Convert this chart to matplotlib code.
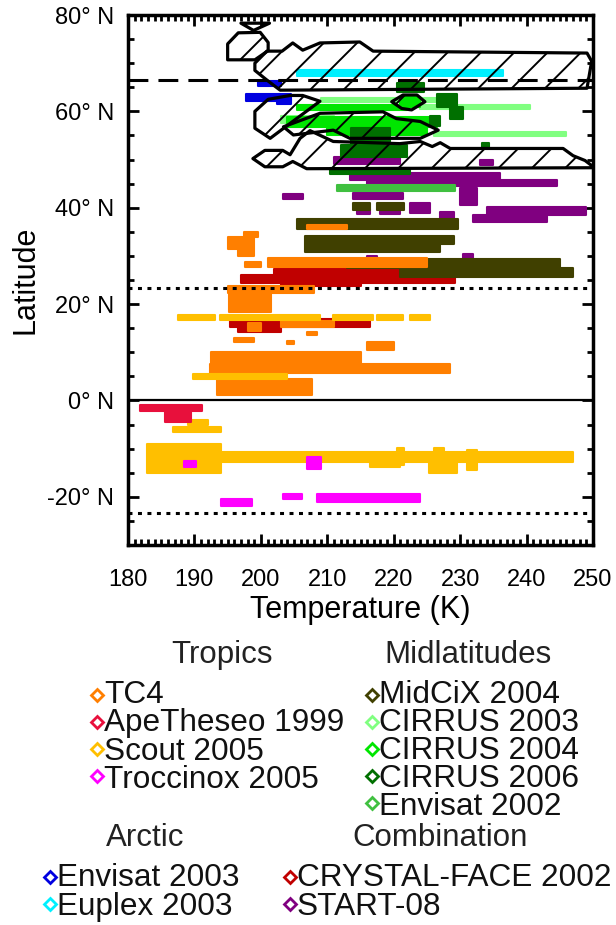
import numpy as np
import matplotlib.pyplot as plt
from matplotlib.patches import Polygon
from matplotlib.ticker import MultipleLocator

plt.rcParams['font.family'] = ['Liberation Sans', 'DejaVu Sans']
plt.rcParams['hatch.linewidth'] = 1.4

# segments of flight data: (lat_lo, lat_hi, T_lo, T_hi)
tc4 = [(35.5, 36.5, 207, 213), (34.0, 35.0, 197.5, 199.5), (31.5, 34.0, 195.0, 199.0),
       (30.0, 31.5, 196.5, 199.0), (27.8, 28.8, 197.6, 200.0), (27.7, 29.6, 201, 225),
       (22.3, 23.8, 195, 208), (18.3, 22.5, 195.2, 201.5), (15.3, 16.5, 203, 211),
       (14.5, 16.0, 198, 200), (13.5, 14.2, 207, 208.5), (12.2, 13.0, 196, 199),
       (11.7, 12.3, 204, 205), (10.5, 12.2, 216, 220), (7.5, 10.0, 192.5, 215),
       (5.8, 7.5, 192.3, 228.5), (1.2, 4.5, 193.4, 207.7)]
crystal_face = [(26.0, 27.3, 202, 222), (24.3, 26.0, 197, 229.2), (23.8, 24.3, 203, 215),
                (19.0, 20.4, 198.8, 201.4), (15.3, 16.9, 195.4, 216.4), (14.2, 15.3, 196.5, 203)]
ape_theseo = [(-2.2, -1.0, 181.8, 191.1), (-4.4, -2.2, 185.5, 189.5)]
scout = [(16.8, 17.8, 187.5, 193.1), (16.8, 17.8, 193.8, 208.9), (16.8, 17.8, 210.9, 216.9),
         (16.8, 17.8, 217.5, 221.4), (16.8, 17.8, 222.5, 225.5), (4.5, 5.5, 189.8, 204),
         (-6.5, -5.5, 186.8, 194), (-5.0, -4.0, 189, 192), (-15, -9, 182.9, 194),
         (-12.8, -10.8, 194, 247), (-13.8, -12.0, 216.5, 221), (-13.3, -9.8, 220.5, 221.5),
         (-15, -12.5, 225.3, 229.5), (-12.5, -9.8, 226, 227.5), (-14.4, -10.2, 231, 232.5)]
troccinox = [(-13.8, -12.6, 188.5, 190.2), (-14.2, -11.8, 207, 209), (-22.0, -20.4, 194.0, 198.7),
             (-20.4, -19.4, 203.3, 206.2), (-21.0, -19.4, 208.4, 224.0)]
midcix = [(39.6, 41.0, 213.9, 216.5), (39.6, 41.0, 217.5, 221.5), (35.6, 37.7, 205.4, 229.7),
          (32.5, 34.2, 206.6, 229), (30.8, 32.5, 206.6, 227), (27.5, 29.4, 213, 245),
          (25.6, 27.5, 221, 247)]
envisat_2002 = [(43.5, 44.7, 211.4, 229.2)]
start_08 = [(49.0, 50.5, 211, 221), (48.8, 50.0, 233, 235), (45.8, 47.3, 213.4, 236),
            (44.6, 45.8, 216, 244.6), (41.8, 42.8, 203.3, 206.3), (41.8, 43.0, 213.9, 221.4),
            (40.6, 44.0, 230.0, 232.5), (39.0, 41.0, 222.5, 225.5), (38.5, 40.2, 234, 249),
            (37.0, 38.5, 232, 243), (38.8, 39.8, 214.5, 216.5), (38.8, 39.8, 218, 221),
            (37.2, 39.2, 227, 229), (29.0, 30.0, 216, 217.5), (29.4, 30.3, 230.5, 232)]
cirrus_2006 = [(64.0, 65.8, 220.5, 224.5), (61.0, 63.5, 226.5, 229.5), (58.5, 61.0, 228.5, 230.5),
               (56.9, 59.0, 225.4, 227), (52.0, 56.5, 213.5, 219.5), (50.5, 53.0, 212, 222),
               (47.0, 48.3, 210.4, 222.5), (52.7, 53.5, 233.3, 234.3)]
cirrus_2004 = [(60.3, 61.4, 205.5, 222), (61.0, 63.0, 221, 224), (56.8, 58.8, 204, 226.5),
               (55.0, 56.5, 210, 225)]
cirrus_2003 = [(62.0, 62.8, 209, 227), (60.4, 61.4, 224, 240.5), (54.9, 55.7, 226, 246),
               (57.5, 59.0, 203, 211)]
envisat_2003 = [(65.2, 66.2, 199.5, 203), (62.2, 63.6, 197.8, 204.5), (61.5, 62.5, 202.5, 204.5)]
euplex = [(67.3, 68.5, 205.4, 236.5)]

# hatched regions (T, lat)
region_tri = [(197.0, 78.3), (201.3, 78.3), (198.9, 76.8)]
region_hex = [(196.6, 76.3), (199.9, 76.4), (201.1, 74.3), (201.1, 72.6), (199.1, 70.7),
              (195.0, 70.7), (195.0, 74.0)]
region_top = [(199.1, 70.0), (200.9, 72.5), (203.2, 72.5), (204.8, 74.2), (206.3, 72.7),
              (208.9, 74.2), (214.9, 74.4), (216.9, 72.5), (249.1, 72.1), (249.8, 70.4),
              (249.1, 64.8), (202.9, 64.4), (200.9, 66.5), (199.1, 68.5)]
region_diamond = [(219.7, 62.0), (221.4, 63.4), (223.5, 63.4), (224.7, 62.0), (222.7, 60.3),
                  (221.2, 60.6)]
region_mid_left = [(199.1, 60.0), (201.1, 62.5), (204.4, 63.3), (206.3, 63.3), (208.9, 62.1),
                   (204.4, 57.5), (201.4, 54.4), (199.1, 56.5)]
region_mid = [(203.4, 56.8), (208.9, 59.6), (218.4, 59.9), (220.4, 58.5), (224.0, 57.9),
              (226.7, 56.1), (224.0, 54.4), (213.4, 54.4), (210.9, 56.1), (204.9, 55.1)]
region_low = [(198.8, 50.2), (200.6, 51.9), (203.3, 51.9), (204.4, 51.0), (205.9, 54.4),
              (207.4, 56.0), (210.9, 53.75), (220.9, 53.3), (224.0, 53.75), (225.8, 52.7),
              (227.0, 53.5), (228.5, 52.3), (245.5, 52.3), (247.0, 50.8), (248.8, 49.8),
              (249.8, 48.75), (249.8, 48.3), (206.9, 48.1), (204.8, 49.6), (203.3, 48.5),
              (200.6, 48.5)]

arctic_circle = 66.5
tropics = [23.44, -23.44]

groups = [
    ("Tropics", [("TC4", "#ff7f00"), ("ApeTheseo 1999", "#e8103c"),
                 ("Scout 2005", "#ffbf00"), ("Troccinox 2005", "#ff00ff")]),
    ("Midlatitudes", [("MidCiX 2004", "#404000"), ("CIRRUS 2003", "#80ff80"),
                      ("CIRRUS 2004", "#00e600"), ("CIRRUS 2006", "#007000"),
                      ("Envisat 2002", "#40c040")]),
    ("Arctic", [("Envisat 2003", "#0000e0"), ("Euplex 2003", "#00f0ff")]),
    ("Combination", [("CRYSTAL-FACE 2002", "#c00000"), ("START-08", "#800080")]),
]
colors = {name: c for _, items in groups for name, c in items}

fig = plt.figure(figsize=(6.16, 9.25), dpi=100)
ax = fig.add_axes([128 / 616, 1 - 545 / 925, 465 / 616, 530 / 925])

draw_order = [("START-08", start_08), ("CRYSTAL-FACE 2002", crystal_face),
              ("MidCiX 2004", midcix), ("Envisat 2002", envisat_2002),
              ("CIRRUS 2003", cirrus_2003), ("CIRRUS 2004", cirrus_2004),
              ("CIRRUS 2006", cirrus_2006), ("Envisat 2003", envisat_2003),
              ("Euplex 2003", euplex), ("TC4", tc4), ("Scout 2005", scout),
              ("ApeTheseo 1999", ape_theseo), ("Troccinox 2005", troccinox)]
for name, segs in draw_order:
    s = np.array(segs)
    ax.barh((s[:, 0] + s[:, 1]) / 2, s[:, 3] - s[:, 2], left=s[:, 2],
            height=s[:, 1] - s[:, 0], color=colors[name], edgecolor=colors[name],
            linewidth=1.5, joinstyle='round', zorder=2)

for reg in [region_tri, region_hex, region_top, region_diamond, region_mid_left,
            region_mid, region_low]:
    ax.add_patch(Polygon(reg, closed=True, fill=False, hatch='/', edgecolor='black',
                         linewidth=2.3, joinstyle='round', zorder=3))

ax.axhline(arctic_circle, color='black', lw=2.2, ls=(0, (6.5, 3.3)), zorder=4)
for t in tropics:
    ax.axhline(t, color='black', lw=2.2, ls=(0, (1.3, 1.8)), zorder=4)
ax.axhline(0, color='black', lw=1.6, zorder=4)

ax.set_xlim(180, 250)
ax.set_ylim(-30, 80)
ax.xaxis.set_major_locator(MultipleLocator(10))
ax.xaxis.set_minor_locator(MultipleLocator(1))
ax.yaxis.set_major_locator(MultipleLocator(20))
ax.yaxis.set_minor_locator(MultipleLocator(5))
ax.tick_params(which='both', direction='in', top=True, right=True, width=2, labelsize=17)
ax.tick_params(which='major', length=8)
ax.tick_params(axis='x', which='major', pad=17)
ax.tick_params(axis='y', which='major', pad=10)
ax.tick_params(which='minor', length=4)
ax.set_yticks(np.arange(-20, 81, 20))
ax.set_yticklabels([f"{v}° N" for v in range(-20, 81, 20)])
for sp in ax.spines.values():
    sp.set_linewidth(2.5)
ax.set_xlabel("Temperature (K)", fontsize=22, labelpad=3)
ax.set_ylabel("Latitude", fontsize=22, labelpad=5)

# legend block under the chart, one text block per group
lax = fig.add_axes([0, 0, 1, 1])
lax.set_xlim(0, 616)
lax.set_ylim(925, 0)
lax.axis('off')
row = 27
layout = [(222, 655, 97, 697), (468, 655, 372, 697), (145, 838, 50, 879), (440, 838, 290, 879)]
for (title, items), (tx, ty, mx, my) in zip(groups, layout):
    lax.text(tx, ty, title, ha='center', va='center', fontsize=22.5, color='#222222')
    for i, (name, c) in enumerate(items):
        lax.plot(mx, my + i * row - 2, marker='D', ms=6, mfc='white', mec=c, mew=2)
    lax.text(mx + 7, my + (len(items) - 1) * row / 2, "\n".join(n for n, _ in items),
             ha='left', va='center', fontsize=22.7, linespacing=0.916, color='#111111')

fig.savefig("out.png", dpi=100)
